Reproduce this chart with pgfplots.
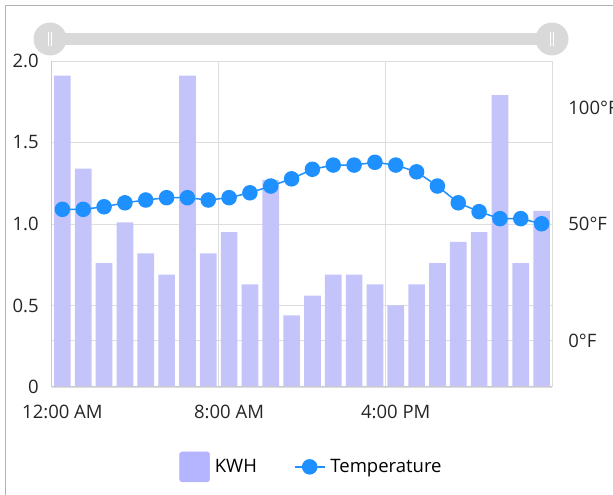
\documentclass[border=0pt]{standalone}
\usepackage{pgfplots}
\pgfplotsset{compat=1.18}
\usepackage{fontspec}
\setmainfont{Open Sans}
\definecolor{barc}{RGB}{196,196,250}
\definecolor{legbar}{RGB}{180,180,255}
\definecolor{tempc}{RGB}{30,144,255}
\definecolor{gridc}{RGB}{221,221,221}
\definecolor{axc}{RGB}{200,200,215}
\definecolor{sliderc}{RGB}{217,217,217}
\pgfplotstableread{
x kwh
0 1.91
1 1.34
2 0.76
3 1.01
4 0.82
5 0.69
6 1.91
7 0.82
8 0.95
9 0.63
10 1.27
11 0.44
12 0.56
13 0.69
14 0.69
15 0.63
16 0.50
17 0.63
18 0.76
19 0.89
20 0.95
21 1.79
22 0.76
23 1.08
}\kwhtable
\pgfplotstableread{
x temp
0 56.3
1 56.3
2 57.4
3 59.1
4 60.3
5 61.3
6 61.3
7 60.3
8 61.3
9 63.4
10 66.3
11 69.4
12 73.5
13 75.3
14 75.3
15 76.5
16 75.3
17 72.4
18 66.3
19 59.1
20 55.3
21 52.3
22 52.3
23 50.1
}\temptable
\begin{document}
\fontsize{18.5}{22}\selectfont
\begin{tikzpicture}
\path[use as bounding box] (0pt,0pt) rectangle (613pt,495pt);
\draw[gray!60] (5pt,0pt) -- (5pt,490pt) -- (613pt,490pt);
% slider
\fill[sliderc] (50pt,450pt) rectangle (552pt,462pt);
\fill[sliderc] (50pt,456pt) circle (16.5pt);
\fill[sliderc] (552pt,456pt) circle (16.5pt);
\draw[white,line width=0.8pt] (48.5pt,449pt) -- (48.5pt,463pt) (51.5pt,449pt) -- (51.5pt,463pt);
\draw[white,line width=0.8pt] (550.5pt,449pt) -- (550.5pt,463pt) (553.5pt,449pt) -- (553.5pt,463pt);
\begin{axis}[
  at={(52pt,108pt)}, anchor=south west,
  scale only axis, width=500pt, height=326pt,
  xmin=-0.5, xmax=23.5, ymin=0, ymax=2,
  axis line style={draw=none},
  xtick={0,8,16}, xticklabels={12:00 AM,8:00 AM,4:00 PM},
  ytick={0,0.5,1,1.5,2}, yticklabels={0,0.5,1.0,1.5,2.0},
  major tick length=0,
  ymajorgrids, major grid style={gridc, line width=0.8pt},
  extra x ticks={7.5,15.5}, extra x tick labels={},
  extra x tick style={xmajorgrids=true, major grid style={gridc,line width=0.8pt}},
  extra y ticks={0.2857}, extra y tick labels={},
  extra y tick style={ymajorgrids=true, major grid style={gridc,line width=0.8pt}},
  xticklabel style={yshift=-12pt},
  yticklabel style={xshift=-7pt},
  tick label style={font=\fontsize{18.5}{22}\selectfont, text=black!85},
  /pgf/number format/assume math mode=true,
  clip=false,
]
\addplot[ybar, bar width=0.8, fill=barc, draw=none, bar shift=0] table[x=x,y=kwh] {\kwhtable};
\draw[gridc, line width=0.8pt] (axis cs:-0.5,2) -- (axis cs:23.5,2) -- (axis cs:23.5,0);
\draw[axc, line width=1pt] (axis cs:-0.5,2) -- (axis cs:-0.5,0) -- (axis cs:23.5,0);
\end{axis}
\begin{axis}[
  at={(52pt,108pt)}, anchor=south west,
  scale only axis, width=500pt, height=326pt,
  xmin=-0.5, xmax=23.5, ymin=-20, ymax=120,
  axis x line=none, axis y line*=right,
  y axis line style={draw=none},
  ytick={0,50,100}, yticklabels={0°F,50°F,100°F},
  major tick length=0,
  yticklabel style={anchor=west, xshift=10pt, font=\fontsize{18.5}{22}\selectfont, text=black!85},
  legend style={at={(0.519,-0.245)}, anchor=center, draw=none, fill=none, legend columns=2,
    font=\fontsize{18.5}{22}\selectfont, inner sep=0pt,
    /tikz/every odd column/.append style={column sep=3pt},
    /tikz/every even column/.append style={column sep=35pt}},
  legend cell align=left,
  clip=false,
]
\addlegendimage{legend image code/.code={\fill[legbar, rounded corners=2.5pt] (0pt,-15pt) rectangle (30pt,15pt);}}
\addlegendentry{KWH}
\addplot[tempc, line width=1.5pt, mark=*, mark size=7pt, mark options={fill=tempc, draw=none},
  legend image code/.code={\draw[tempc, line width=1.5pt] (0pt,0pt) -- (30pt,0pt); \fill[tempc] (15pt,0pt) circle (7pt);}] table[x=x,y=temp] {\temptable};
\addlegendentry{Temperature}
\end{axis}
\end{tikzpicture}
\end{document}
